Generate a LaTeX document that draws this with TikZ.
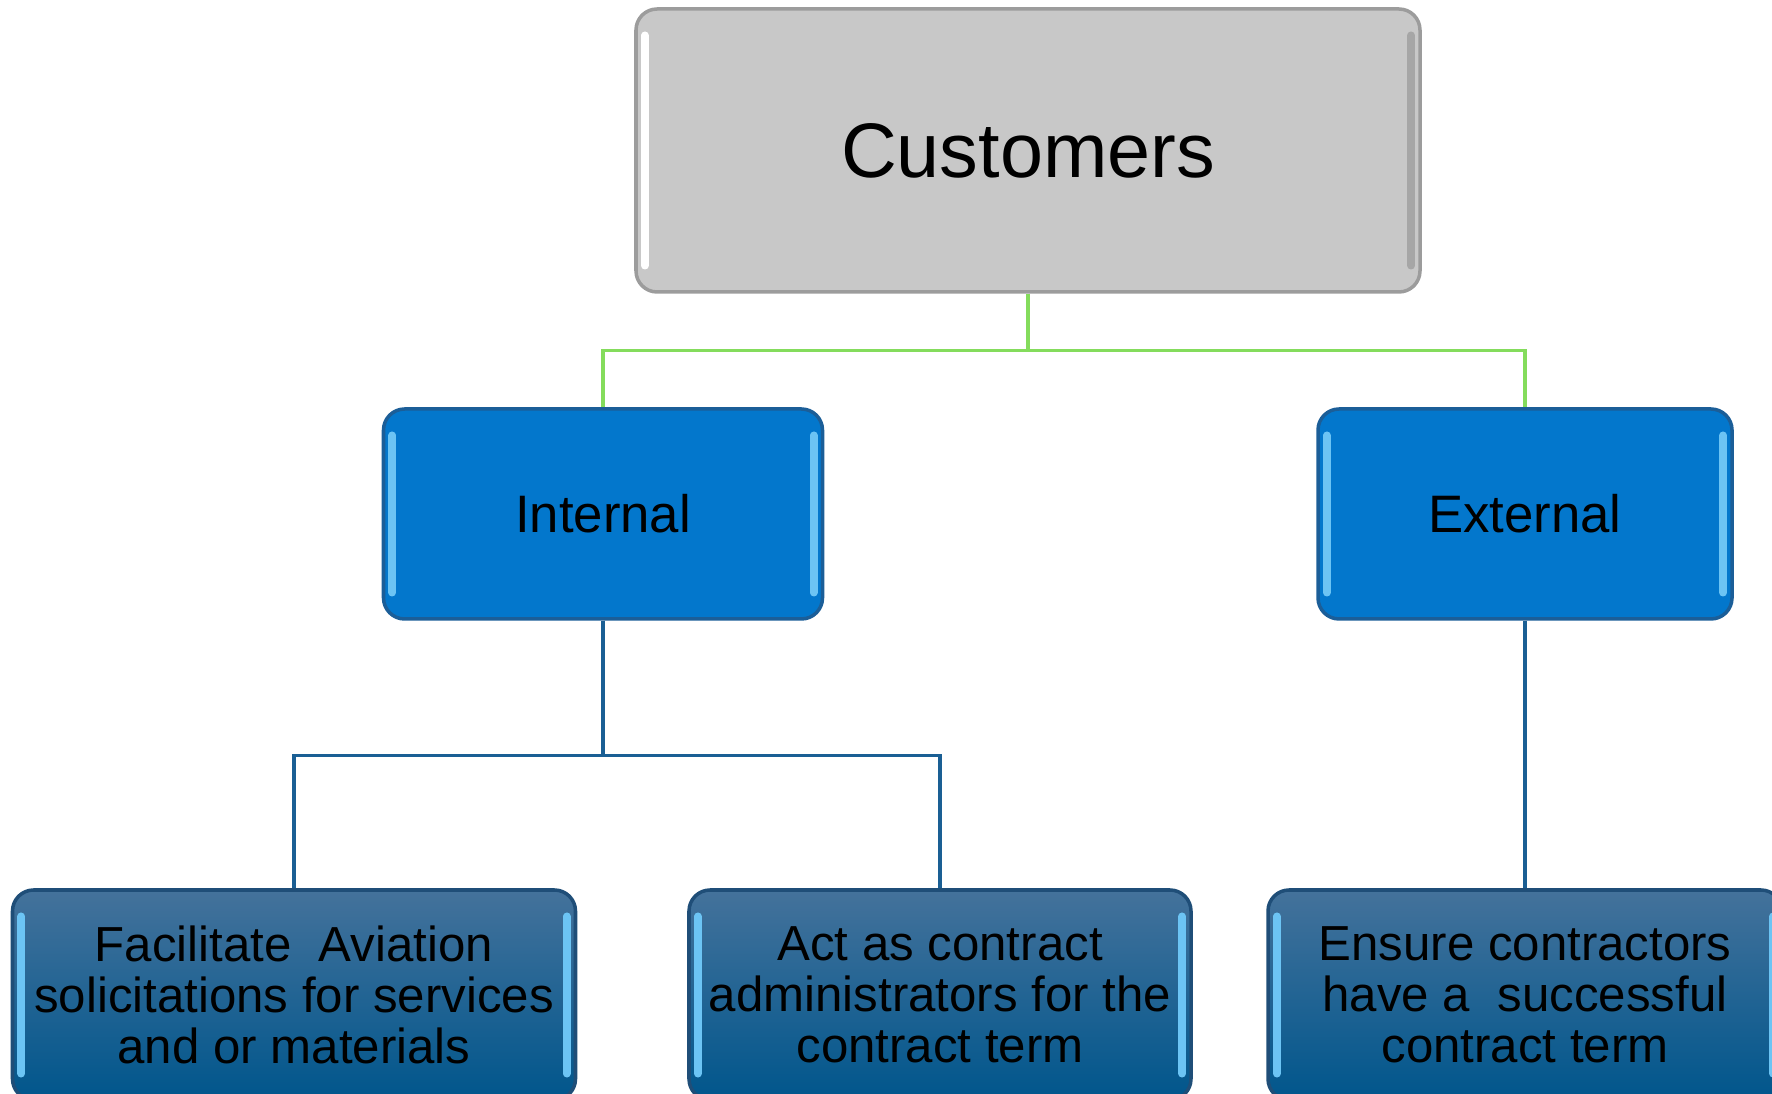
\documentclass[tikz,border=0pt]{standalone}
\usepackage{fontspec}
\setmainfont{Liberation Sans}
\definecolor{custgray}{HTML}{C8C8C8}
\definecolor{custedge}{HTML}{9C9C9C}
\definecolor{midblue}{HTML}{0377CC}
\definecolor{midedge}{HTML}{1B5E98}
\definecolor{lowtop}{HTML}{44729B}
\definecolor{lowbot}{HTML}{00568C}
\definecolor{lowedge}{HTML}{1F4E78}
\definecolor{grnline}{HTML}{84DC5C}
\definecolor{blueline}{HTML}{1A5F94}
\definecolor{shine}{HTML}{6CC4F4}
\tikzset{
   boxbase/.style={rounded corners=6pt, line width=1pt, align=center},
   topbox/.style={boxbase, fill=custgray, draw=custedge, minimum width=7.84cm,
      minimum height=2.83cm, font=\fontsize{22}{26}\selectfont},
   midbox/.style={boxbase, fill=midblue, draw=midedge, minimum height=2.1cm,
      font=\fontsize{15}{18}\selectfont},
   lowbox/.style={boxbase, top color=lowtop, bottom color=lowbot, draw=lowedge,
      minimum height=2.1cm, font=\fontsize{14}{14.5}\selectfont},
   greenlink/.style={draw=grnline, line width=0.9pt},
   bluelink/.style={draw=blueline, line width=0.9pt},
   shinestrip/.style={line width=2.2pt, line cap=round},
}
\begin{document}
\begin{tikzpicture}
   \useasboundingbox (0,0) rectangle (17.72,10.94);

   \node[topbox] (cust) at (10.28,9.435) {Customers};
   \node[midbox, minimum width=4.39cm] (intl) at (6.03,5.80) {Internal};
   \node[midbox, minimum width=4.14cm] (extl) at (15.25,5.80) {External};

   \node[lowbox, minimum width=5.63cm] (bl) at (2.94,0.99)
      {Facilitate~ Aviation\\solicitations for services\\and or materials};
   \node[lowbox, minimum width=5.02cm] (bm) at (9.40,0.99)
      {Act as contract\\administrators for the\\contract term};
   \node[lowbox, minimum width=5.14cm] (br) at (15.25,0.99)
      {Ensure contractors\\have a~ successful\\contract term};

   % bevel shine on the box sides
   \foreach \n/\cl/\cr in {cust/white/gray!70,intl/shine/shine,extl/shine/shine,
      bl/shine/shine,bm/shine/shine,br/shine/shine}{
      \draw[shinestrip,\cl] ([xshift=3pt,yshift=-8pt]\n.north west)
         -- ([xshift=3pt,yshift=8pt]\n.south west);
      \draw[shinestrip,\cr] ([xshift=-3pt,yshift=-8pt]\n.north east)
         -- ([xshift=-3pt,yshift=8pt]\n.south east);
   }

   \draw[greenlink] (cust.south) -- ++(0,-0.57) -| (intl.north);
   \draw[greenlink] (cust.south) -- ++(0,-0.57) -| (extl.north);

   \draw[bluelink] (intl.south) -- ++(0,-1.35) -| (bl.north);
   \draw[bluelink] (intl.south) -- ++(0,-1.35) -| (bm.north);
   \draw[bluelink] (extl.south) -- (br.north);
\end{tikzpicture}
\end{document}
